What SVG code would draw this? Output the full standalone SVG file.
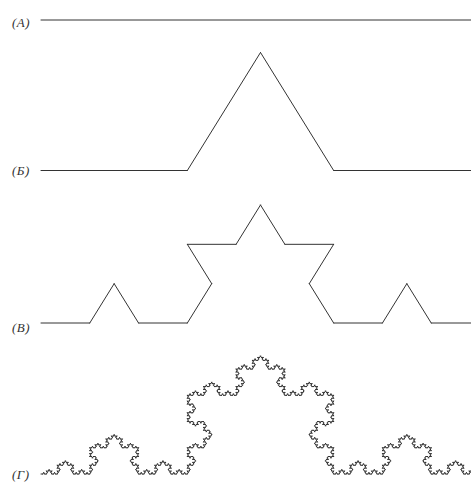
<svg xmlns="http://www.w3.org/2000/svg" xmlns:xlink="http://www.w3.org/1999/xlink" width="471" height="482" viewBox="0 0 471 482">
<style>
.s{fill:none;stroke:#333;stroke-width:1;stroke-linecap:round;stroke-linejoin:round;vector-effect:non-scaling-stroke}
.lbl{font-family:"Liberation Serif","DejaVu Serif",serif;font-style:italic;font-size:13px;fill:#333;letter-spacing:0.5px}
</style>
<defs>
<path id="k0" class="s" d="M0 0 L1 0"/>
<g id="k1">
<use href="#k0" transform="scale(0.3333333)"/>
<use href="#k0" transform="translate(0.3333333 0) rotate(-60) scale(0.3333333)"/>
<use href="#k0" transform="translate(0.5 -0.2886751) rotate(60) scale(0.3333333)"/>
<use href="#k0" transform="translate(0.6666667 0) scale(0.3333333)"/>
</g>
<g id="k2">
<use href="#k1" transform="scale(0.3333333)"/>
<use href="#k1" transform="translate(0.3333333 0) rotate(-60) scale(0.3333333)"/>
<use href="#k1" transform="translate(0.5 -0.2886751) rotate(60) scale(0.3333333)"/>
<use href="#k1" transform="translate(0.6666667 0) scale(0.3333333)"/>
</g>
<g id="k3">
<use href="#k2" transform="scale(0.3333333)"/>
<use href="#k2" transform="translate(0.3333333 0) rotate(-60) scale(0.3333333)"/>
<use href="#k2" transform="translate(0.5 -0.2886751) rotate(60) scale(0.3333333)"/>
<use href="#k2" transform="translate(0.6666667 0) scale(0.3333333)"/>
</g>
<g id="k4">
<use href="#k3" transform="scale(0.3333333)"/>
<use href="#k3" transform="translate(0.3333333 0) rotate(-60) scale(0.3333333)"/>
<use href="#k3" transform="translate(0.5 -0.2886751) rotate(60) scale(0.3333333)"/>
<use href="#k3" transform="translate(0.6666667 0) scale(0.3333333)"/>
</g>
<g id="k5">
<use href="#k4" transform="scale(0.3333333)"/>
<use href="#k4" transform="translate(0.3333333 0) rotate(-60) scale(0.3333333)"/>
<use href="#k4" transform="translate(0.5 -0.2886751) rotate(60) scale(0.3333333)"/>
<use href="#k4" transform="translate(0.6666667 0) scale(0.3333333)"/>
</g>
</defs>
<g id="curveA">
<text class="lbl" x="12" y="26.5">(А)</text>
<use href="#k0" transform="translate(41 20) scale(439 408.8)"/>
</g>
<g id="curveB">
<text class="lbl" x="12" y="175">(Б)</text>
<use href="#k1" transform="translate(41 170.5) scale(439 408.8)"/>
</g>
<g id="curveV">
<text class="lbl" x="12" y="331.5">(В)</text>
<use href="#k2" transform="translate(41 323) scale(439 408.8)"/>
</g>
<g id="curveG">
<text class="lbl" x="12" y="478.5">(Г)</text>
<use href="#k5" transform="translate(41 474) scale(439 408.8)"/>
</g>
</svg>
